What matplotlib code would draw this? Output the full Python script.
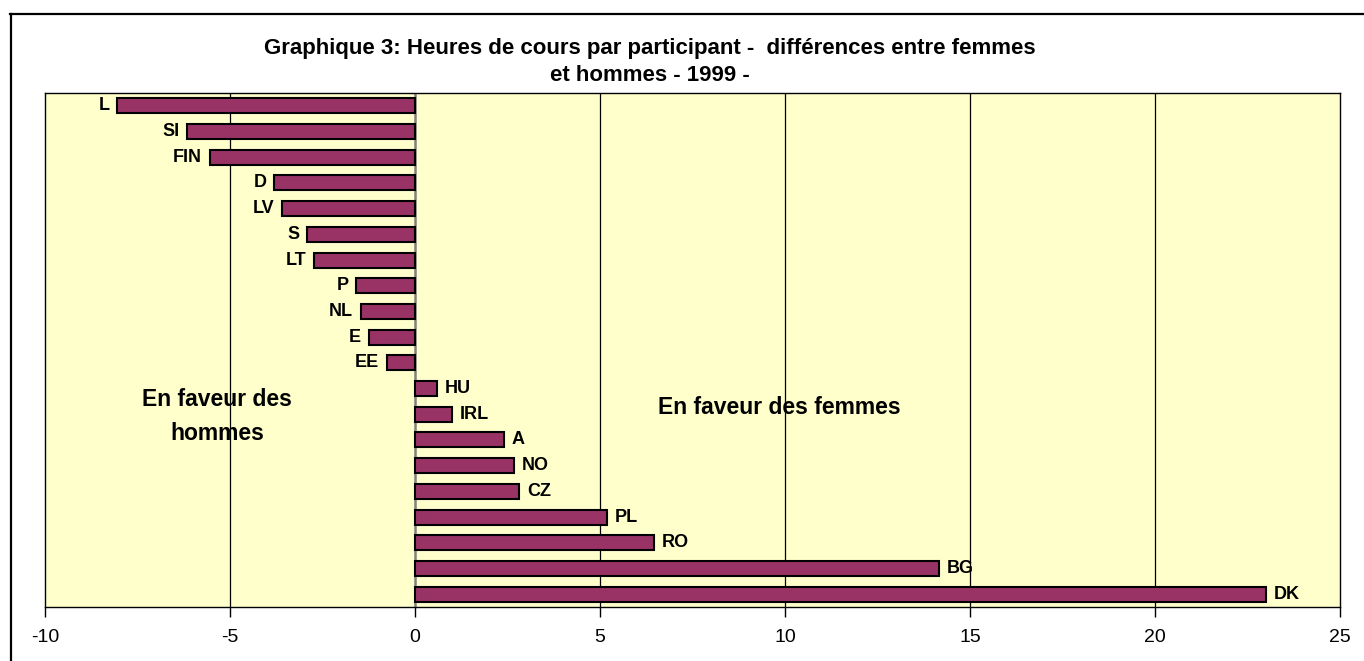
import matplotlib.pyplot as plt
from matplotlib.lines import Line2D

plt.rcParams['font.family'] = ['Liberation Sans', 'DejaVu Sans']

# data (hours per participant, women minus men, 1999)
countries = ['L', 'SI', 'FIN', 'D', 'LV', 'S', 'LT', 'P', 'NL', 'E', 'EE',
             'HU', 'IRL', 'A', 'NO', 'CZ', 'PL', 'RO', 'BG', 'DK']
values = [-8.05, -6.15, -5.55, -3.81, -3.59, -2.93, -2.73, -1.59, -1.47, -1.25, -0.77,
          0.59, 0.99, 2.40, 2.67, 2.82, 5.19, 6.45, 14.15, 23.0]
xticks = [-10, -5, 0, 5, 10, 15, 20, 25]
title_lines = ['Graphique 3: Heures de cours par participant -  différences entre femmes',
               'et hommes - 1999 -']

W, H = 1364, 661
fig = plt.figure(figsize=(W / 100, H / 100), dpi=100)
ax = fig.add_axes([45 / W, 1 - 607 / H, (1340 - 45) / W, (607 - 93) / H])
ax.set_facecolor('#FFFFCC')

pos = list(range(len(countries)))
ax.barh(pos, values, height=0.58, color='#993366', edgecolor='black',
        linewidth=1.5, zorder=3)

for p, v, c in zip(pos, values, countries):
    if v < 0:
        ax.text(v - 0.2, p, c, ha='right', va='center', fontsize=13,
                fontweight='bold', zorder=4)
    else:
        ax.text(v + 0.22, p, c, ha='left', va='center', fontsize=13,
                fontweight='bold', zorder=4)

ax.set_xlim(-10, 25)
ax.set_ylim(len(countries) - 0.5, -0.5)
ax.set_xticks(xticks)
ax.set_xticklabels([str(t) for t in xticks], fontsize=14)
ax.set_yticks([])
ax.tick_params(axis='x', direction='out', length=7, width=1, pad=9)
for t in [-5, 5, 10, 15, 20]:
    ax.axvline(t, color='black', linewidth=0.9, zorder=1)
ax.axvline(0, color='#808080', linewidth=1.8, zorder=2)
for s in ax.spines.values():
    s.set_linewidth(1.0)

ax.text(-5.35, 12.1, 'En faveur des\nhommes', ha='center', va='center',
        fontsize=16.5, fontweight='bold', linespacing=1.6, zorder=5)
ax.text(9.85, 11.72, 'En faveur des femmes', ha='center', va='center',
        fontsize=16.5, fontweight='bold', zorder=5)

fig.text(650 / W, 1 - 54 / H, title_lines[0], ha='center', va='baseline',
         fontsize=16, fontweight='bold')
fig.text(650 / W, 1 - 81 / H, title_lines[1], ha='center', va='baseline',
         fontsize=16, fontweight='bold')

# outer chart frame (top and left edges visible)
fig.add_artist(Line2D([10 / W, 1363 / W], [1 - 13.5 / H, 1 - 13.5 / H],
                      transform=fig.transFigure, color='black', linewidth=1.6))
fig.add_artist(Line2D([10.5 / W, 10.5 / W], [0, 1 - 13.5 / H],
                      transform=fig.transFigure, color='black', linewidth=1.6))

fig.savefig('out.png', dpi=100)
